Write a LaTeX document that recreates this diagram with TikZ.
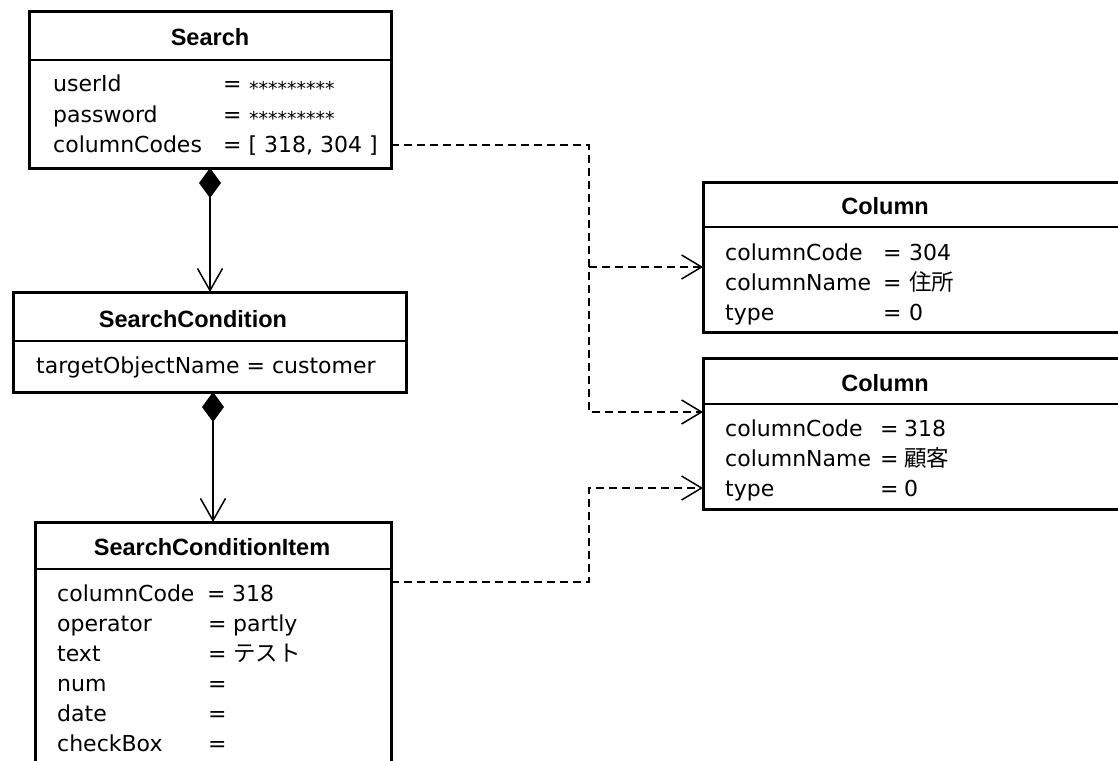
\documentclass[tikz,border=0pt]{standalone}
\usepackage{fontspec}
\setmainfont{DejaVu Sans}
\newfontfamily\headfont{Liberation Sans}
\newfontfamily\jpfont{Noto Sans CJK JP}
\usetikzlibrary{arrows.meta}

\tikzset{
  umlbox/.style={draw, line width=3pt, rectangle, inner sep=0pt, outer sep=0pt, anchor=north west},
  sepline/.style={line width=1.4pt},
  title/.style={font=\headfont\bfseries\fontsize{23.5}{28}\selectfont, anchor=base, inner sep=0pt},
  attr/.style={font=\fontsize{22}{26}\selectfont, anchor=base west, inner sep=0pt},
  jp/.style={font=\jpfont\fontsize{22.5}{26}\selectfont, anchor=base west, inner sep=0pt},
  stars/.style={font=\fontsize{19}{22}\selectfont, anchor=base west, inner sep=0pt},
  comp/.style={line width=1.5pt,
    {Diamond[length=30pt,width=22pt]}-{Straight Barb[length=22pt,width=25pt]}},
  dashline/.style={line width=1.5pt, dash pattern=on 8pt off 5pt},
  dep/.style={dashline, -{Straight Barb[length=20pt,width=24pt]}},
}

\begin{document}
\begin{tikzpicture}[x=1pt, y=-1pt]
  \useasboundingbox (0,0) rectangle (1118,760);
  \fill[white] (0,0) rectangle (1118,760);

  % ---- Search ----
  \node[umlbox, minimum width=362pt, minimum height=156pt] (Search) at (29,12) {};
  \draw[sepline] (Search.west |- 0,60) -- (Search.east |- 0,60);
  \node[title] (tSearch) at (210,46) {Search};
  \node[attr] (s1) at (53,92) {userId};
  \node[attr] (s1e) at (223,92) {=};
  \node[stars] (s1v) at (249,95) {*********};
  \node[attr] (s2) at (53,122) {password};
  \node[attr] (s2e) at (223,122) {=};
  \node[stars] (s2v) at (249,125) {*********};
  \node[attr] (s3) at (53,152) {columnCodes};
  \node[attr] (s3e) at (223,152) {= [ 318, 304 ]};

  % ---- SearchCondition ----
  \node[umlbox, minimum width=393pt, minimum height=100pt] (SC) at (13,292) {};
  \draw[sepline] (SC.west |- 0,341) -- (SC.east |- 0,341);
  \node[title] (tSC) at (193,327) {SearchCondition};
  \node[attr] (c1) at (36,373) {targetObjectName = customer};

  % ---- SearchConditionItem ----
  \node[umlbox, minimum width=356pt, minimum height=280pt] (SCI) at (35,522) {};
  \draw[sepline] (SCI.west |- 0,569) -- (SCI.east |- 0,569);
  \node[title] (tSCI) at (212,555) {SearchConditionItem};
  \node[attr] (i1) at (57,601) {columnCode};
  \node[attr] (i1e) at (207,601) {=};
  \node[attr] (i1v) at (232,601) {318};
  \node[attr] (i2) at (57,631) {operator};
  \node[attr] (i2e) at (208,631) {=};
  \node[attr] (i2v) at (233,631) {partly};
  \node[attr] (i3) at (57,661) {text};
  \node[attr] (i3e) at (208,661) {=};
  \node[jp] (i3v) at (233,661) {テスト};
  \node[attr] (i4) at (57,691) {num};
  \node[attr] (i4e) at (208,691) {=};
  \node[attr] (i5) at (57,721) {date};
  \node[attr] (i5e) at (208,721) {=};
  \node[attr] (i6) at (57,751) {checkBox};
  \node[attr] (i6e) at (208,751) {=};

  % ---- Column 304 ----
  \node[umlbox, minimum width=430pt, minimum height=150pt] (Col1) at (703,182) {};
  \draw[sepline] (Col1.west |- 0,227) -- (Col1.east |- 0,227);
  \node[title] (tCol1) at (885,214) {Column};
  \node[attr] (a1) at (725,260) {columnCode};
  \node[attr] (a1e) at (883,260) {=};
  \node[attr] (a1v) at (909,260) {304};
  \node[attr] (a2) at (725,290) {columnName};
  \node[attr] (a2e) at (883,290) {=};
  \node[jp] (a2v) at (909,290) {住所};
  \node[attr] (a3) at (725,320) {type};
  \node[attr] (a3e) at (883,320) {=};
  \node[attr] (a3v) at (909,320) {0};

  % ---- Column 318 ----
  \node[umlbox, minimum width=430pt, minimum height=151pt] (Col2) at (703,358) {};
  \draw[sepline] (Col2.west |- 0,404) -- (Col2.east |- 0,404);
  \node[title] (tCol2) at (885,391) {Column};
  \node[attr] (b1) at (725,436) {columnCode};
  \node[attr] (b1e) at (880,436) {=};
  \node[attr] (b1v) at (904,436) {318};
  \node[attr] (b2) at (725,466) {columnName};
  \node[attr] (b2e) at (880,466) {=};
  \node[jp] (b2v) at (904,466) {顧客};
  \node[attr] (b3) at (725,496) {type};
  \node[attr] (b3e) at (880,496) {=};
  \node[attr] (b3v) at (904,496) {0};

  % ---- composition links ----
  \draw[comp] (Search.south) -- (Search.south |- SC.north);
  \draw[comp] (SCI.north |- SC.south) -- (SCI.north);

  % ---- dependency links ----
  \coordinate (j1) at (589,145);
  \coordinate (j2) at (589,267);
  \coordinate (j3) at (589,412);
  \coordinate (j4) at (589,582);
  \coordinate (j5) at (589,488);
  \draw[dep] (Search.east |- j1) -- (j1) -- (j3) -- (Col2.west |- j3);
  \draw[dep] (j2) -- (Col1.west |- j2);
  \draw[dep] (SCI.east |- j4) -- (j4) -- (j5) -- (Col2.west |- j5);
\end{tikzpicture}
\end{document}
